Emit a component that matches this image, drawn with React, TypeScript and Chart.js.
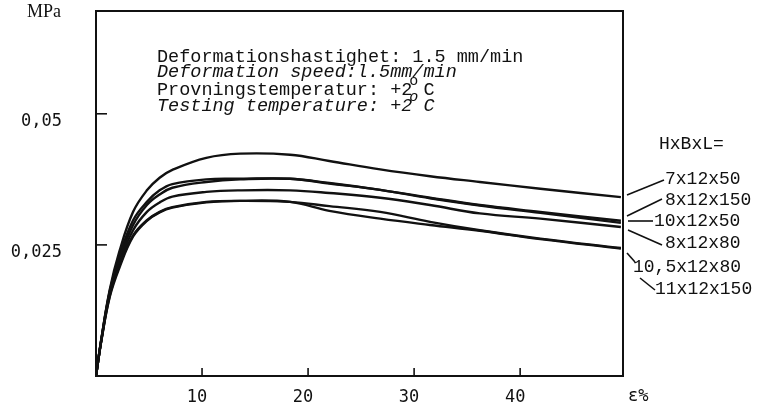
import React, { useEffect, useRef } from "react";
import { Chart, registerables } from "chart.js";

Chart.register(...registerables);

// ---- data (strain %, stress MPa) ----
const strain = [0, 0.5, 1.3, 2.2, 3.5, 4.8, 6.0, 7.2, 10.4, 13.6, 18.3, 22, 26.8, 31.5, 36.2, 41.9, 49.5];
const s7x12x50 = [0, 0.0070, 0.0165, 0.0237, 0.0313, 0.0354, 0.0378, 0.0393, 0.0416, 0.0424, 0.0422, 0.0410, 0.0394, 0.0381, 0.0370, 0.0357, 0.0341];
const s8x12x150 = [0, 0.0069, 0.0162, 0.0228, 0.0297, 0.0332, 0.0354, 0.0366, 0.0375, 0.0376, 0.0376, 0.0368, 0.0355, 0.0340, 0.0326, 0.0313, 0.0296];
const s10x12x50 = [0, 0.0069, 0.0160, 0.0222, 0.0288, 0.0326, 0.0346, 0.0359, 0.0370, 0.0375, 0.0376, 0.0367, 0.0355, 0.0339, 0.0325, 0.0311, 0.0292];
const s8x12x80 = [0, 0.0068, 0.0157, 0.0216, 0.0278, 0.0313, 0.0331, 0.0342, 0.0351, 0.0354, 0.0354, 0.0349, 0.0340, 0.0326, 0.0310, 0.0300, 0.0284];
const s105x12x80 = [0, 0.0067, 0.0153, 0.0210, 0.0268, 0.0297, 0.0313, 0.0322, 0.0332, 0.0334, 0.0332, 0.0324, 0.0313, 0.0294, 0.0278, 0.0262, 0.0244];
const s11x12x150 = [0, 0.0067, 0.0151, 0.0206, 0.0266, 0.0296, 0.0312, 0.0321, 0.0331, 0.0334, 0.0332, 0.0315, 0.0300, 0.0288, 0.0277, 0.0261, 0.0243];

const seriesNames = ["7x12x50", "8x12x150", "10x12x50", "8x12x80", "10,5x12x80", "11x12x150"];
const seriesValues = [s7x12x50, s8x12x150, s10x12x50, s8x12x80, s105x12x80, s11x12x150];

const xTicks = [10, 20, 30, 40];
const xTickLabels = ["10", "20", "30", "40"];
const yTicks = [0.025, 0.05];
const yTickLabels = ["0,025", "0,05"];

const X_MAX = 49.7;
const Y_MAX = 0.0696;

const infoLines = [
  "Deformationshastighet: 1.5 mm/min",
  "Deformation speed:l.5mm/min",
  "Provningstemperatur: +2 C",
  "Testing temperature: +2 C",
];

const framePlugin = {
  id: "framePlugin",
  afterDraw(chart: any) {
    const { ctx, chartArea } = chart;
    const xs = chart.scales.x;
    const ys = chart.scales.y;
    const { left, right, top, bottom } = chartArea;
    ctx.save();
    ctx.strokeStyle = "#111";
    ctx.fillStyle = "#111";
    ctx.lineWidth = 2;
    ctx.strokeRect(left, top, right - left, bottom - top);

    // inward ticks
    ctx.lineWidth = 1.6;
    xTicks.forEach((t) => {
      const px = xs.getPixelForValue(t);
      ctx.beginPath();
      ctx.moveTo(px, bottom);
      ctx.lineTo(px, bottom - 8);
      ctx.stroke();
    });
    yTicks.forEach((t) => {
      const py = ys.getPixelForValue(t);
      ctx.beginPath();
      ctx.moveTo(left, py);
      ctx.lineTo(left + 11, py);
      ctx.stroke();
    });

    // tick labels
    ctx.font = "17px 'DejaVu Sans Mono'";
    ctx.textBaseline = "middle";
    ctx.textAlign = "center";
    xTicks.forEach((t, i) => {
      const px = xs.getPixelForValue(t);
      ctx.fillText(xTickLabels[i], px - 5, bottom + 22);
    });
    ctx.textAlign = "left";
    ctx.fillText("ε%", right + 5, bottom + 21);
    ctx.textAlign = "right";
    yTicks.forEach((t, i) => {
      const py = ys.getPixelForValue(t);
      ctx.fillText(yTickLabels[i], left - 34, py + 8);
    });

    // unit
    ctx.font = "18px 'Liberation Serif'";
    ctx.textAlign = "left";
    ctx.fillText("MPa", 27, 12);

    // info block
    const tx = 157;
    const ly = [57, 72, 90, 106];
    ctx.textAlign = "left";
    infoLines.forEach((line, i) => {
      const italic = i % 2 === 1;
      ctx.font = (italic ? "italic " : "") + "18.5px 'Liberation Mono'";
      ctx.fillText(line, tx, ly[i]);
    });
    // degree marks
    ctx.font = "15px 'Liberation Mono'";
    const cw = 11.1;
    ctx.fillText("o", tx + 23 * cw - 3, ly[2] - 9);
    ctx.font = "italic 15px 'Liberation Mono'";
    ctx.fillText("o", tx + 23 * cw - 3, ly[3] - 9);

    // legend labels
    ctx.font = "18px 'Liberation Mono'";
    ctx.fillText("HxBxL=", 659, 144);
    const labelPos = [
      [665, 179],
      [665, 200],
      [654, 221],
      [665, 243],
      [633, 267],
      [655, 289],
    ];
    seriesNames.forEach((n, i) => {
      ctx.fillText(n, labelPos[i][0], labelPos[i][1]);
    });
    // leader lines
    const leaders = [
      [627, 195, 664, 180],
      [627, 216, 662, 199],
      [628, 221, 653, 221],
      [628, 230, 662, 245],
      [627, 253, 635, 262],
      [640, 278, 655, 290],
    ];
    ctx.lineWidth = 1.6;
    leaders.forEach(([x1, y1, x2, y2]) => {
      ctx.beginPath();
      ctx.moveTo(x1, y1);
      ctx.lineTo(x2, y2);
      ctx.stroke();
    });
    ctx.restore();
  },
};

export default function App() {
  const canvasRef = useRef<HTMLCanvasElement | null>(null);

  useEffect(() => {
    document.body.style.margin = "0";
    const canvas = canvasRef.current;
    if (!canvas) return;
    const chart = new Chart(canvas, {
      type: "line",
      data: {
        datasets: seriesValues.map((vals, i) => ({
          label: seriesNames[i],
          data: strain.map((x, j) => ({ x, y: vals[j] })),
          borderColor: "#111",
          borderWidth: 2.4,
          pointRadius: 0,
          fill: false,
          tension: 0.4,
        })),
      },
      options: {
        responsive: false,
        animation: false,
        devicePixelRatio: 1,
        layout: { padding: { left: 96, right: 134, top: 11, bottom: 33 } },
        scales: {
          x: { type: "linear", min: 0, max: X_MAX, display: false },
          y: { type: "linear", min: 0, max: Y_MAX, display: false },
        },
        plugins: {
          legend: { display: false },
          tooltip: { enabled: false },
        },
      },
      plugins: [framePlugin],
    });
    return () => chart.destroy();
  }, []);

  return (
    <div style={{ position: "absolute", left: 0, top: 0, width: 757, height: 409, background: "#fff" }}>
      <canvas ref={canvasRef} width={757} height={409} style={{ width: 757, height: 409 }} />
    </div>
  );
}
